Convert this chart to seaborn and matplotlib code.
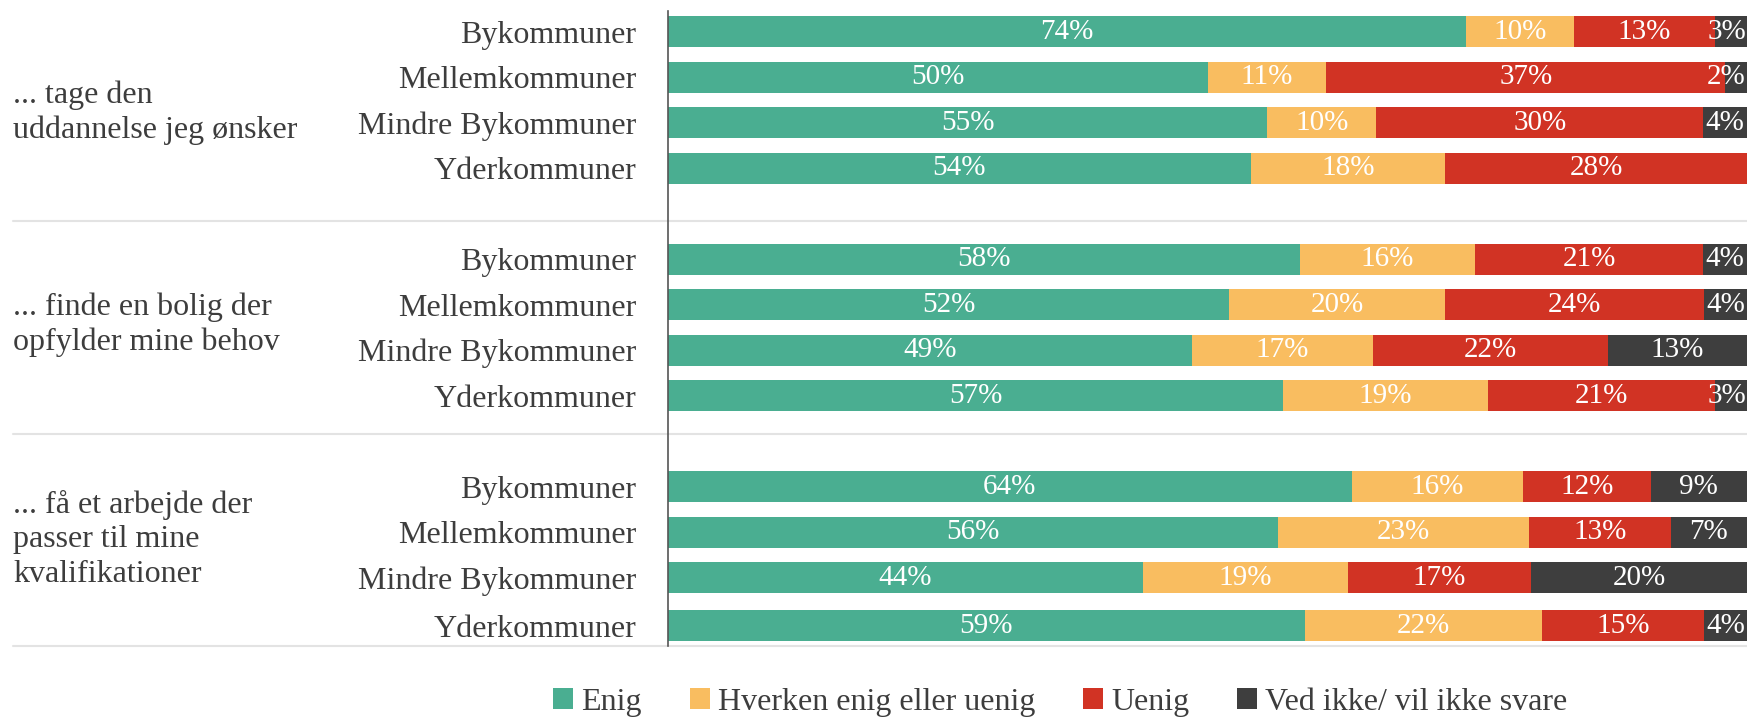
import pandas as pd
import numpy as np
import matplotlib.pyplot as plt
from matplotlib.patches import Patch
import seaborn as sns

# Data
groups = ["... tage den\nuddannelse jeg ønsker",
          "... finde en bolig der\nopfylder mine behov",
          "... få et arbejde der\npasser til mine\nkvalifikationer"]
municipalities = ["Bykommuner", "Mellemkommuner", "Mindre Bykommuner", "Yderkommuner"]
answers = ["Enig", "Hverken enig eller uenig", "Uenig", "Ved ikke/ vil ikke svare"]
colors = ["#4aae91", "#f9bd60", "#d13324", "#3e3e3e"]

enig = [74, 50, 55, 54, 58, 52, 49, 57, 64, 56, 44, 59]
hverken = [10, 11, 10, 18, 16, 20, 17, 19, 16, 23, 19, 22]
uenig = [13, 37, 30, 28, 21, 24, 22, 21, 12, 13, 17, 15]
ved_ikke = [3, 2, 4, 0, 4, 4, 13, 3, 9, 7, 20, 4]

# bar rows (with a gap between groups)
row_pos = [0, 1, 2, 3, 5, 6, 7, 8, 10, 11, 12, 13.05]
group_label_y = [1.78, 6.44, 11.15]
separators = [4.17, 8.83, 13.5]

df = pd.DataFrame({"pos": row_pos,
                   "label": municipalities * 3,
                   answers[0]: enig, answers[1]: hverken,
                   answers[2]: uenig, answers[3]: ved_ikke})
totals = df[answers].sum(axis=1)
shares = df[answers].div(totals, axis=0) * 100
cum = shares.cumsum(axis=1)

sns.set_style("white")
plt.rcParams['font.family'] = ['Liberation Serif', 'DejaVu Serif']
text_col = "#3d3d3d"

fig = plt.figure(figsize=(17.47, 7.17), dpi=100)
ax = fig.add_axes([0.3824, 0.099, 0.6176, 0.886])

# stacked bars: draw cumulative totals from the back to the front
for i in range(len(answers) - 1, -1, -1):
    sns.barplot(x=cum[answers[i]], y=df["pos"], orient="y", native_scale=True,
                color=colors[i], saturation=1, width=0.68, errorbar=None,
                linewidth=0, ax=ax)

# value labels
for r in range(len(df)):
    left = 0
    for i, a in enumerate(answers):
        v = df[a].iloc[r]
        w = shares[a].iloc[r]
        if v > 0:
            x = min(left + w / 2, 98.1)
            ax.text(x, df["pos"].iloc[r], f"{v}%", color="white",
                    fontsize=21, ha="center", va="center")
        left += w

ax.set_xlim(0, 100)
ax.set_ylim(13.5, -0.46)
ax.set_yticks(row_pos)
ax.set_yticklabels(df["label"], fontsize=23, color=text_col)
ax.tick_params(axis="y", length=0, pad=23)
ax.set_xticks([])
ax.set_xlabel("")
ax.set_ylabel("")
for s in ["top", "right", "bottom"]:
    ax.spines[s].set_visible(False)
ax.spines["left"].set_color("#555555")
ax.spines["left"].set_linewidth(1.2)

trans = ax.get_yaxis_transform()
for y in separators:
    ax.plot([-0.607, 1.0], [y, y], color="#e3e3e3", lw=1.5, transform=trans,
            clip_on=False, zorder=0)
for g, y in zip(groups, group_label_y):
    ax.text(-0.607, y, g, transform=trans, ha="left", va="center",
            fontsize=23, color=text_col, linespacing=1.25)

handles = [Patch(facecolor=c, edgecolor="none") for c in colors]
fig.legend(handles, answers, loc="center", bbox_to_anchor=(0.607, 0.02), ncol=4,
           frameon=False, fontsize=23, labelcolor=text_col, handlelength=0.63,
           handleheight=0.63, handletextpad=0.25, columnspacing=1.5)

fig.savefig("out.png", dpi=100)
